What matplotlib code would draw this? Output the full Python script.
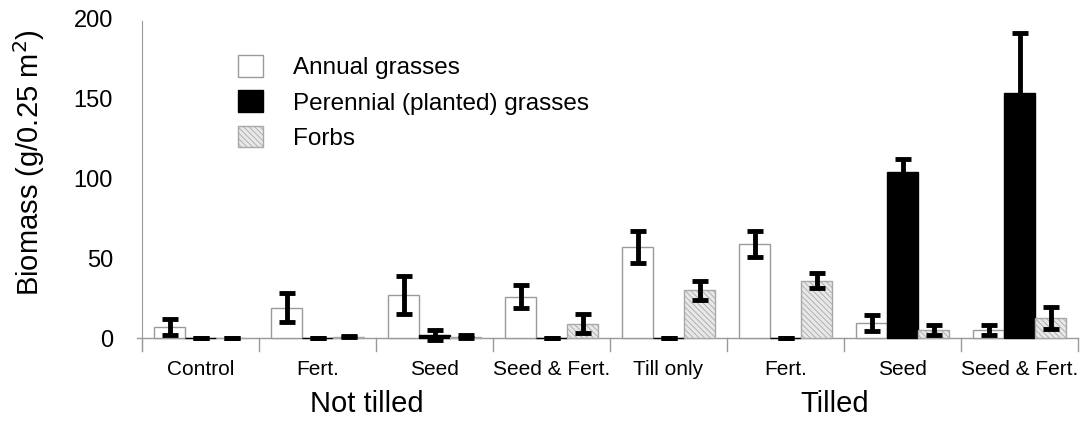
import numpy as np
import matplotlib
matplotlib.use("Agg")
import matplotlib.pyplot as plt
from matplotlib.patches import Patch

plt.rcParams["font.family"] = ["Liberation Sans", "DejaVu Sans"]
plt.rcParams["hatch.linewidth"] = 0.6

# ── data ────────────────────────────────────────────────────────────────────
treatments = ["Control", "Fert.", "Seed", "Seed & Fert.",
              "Till only", "Fert.", "Seed", "Seed & Fert."]
tillage = ["Not tilled", "Tilled"]

annual = [7, 19, 27, 26, 57, 59, 9.5, 5]
annual_err = [5, 9, 12, 7, 10, 8, 5, 3]

perennial = [0, 0, 2, 0, 0, 0, 104, 153]
perennial_err = [0, 0, 3, 0, 0, 0, 8, 38]

forbs = [0, 1, 1, 9, 30, 36, 5, 12.5]
forbs_err = [0, 0.5, 1, 6, 6, 4.5, 3, 7]

series = ["Annual grasses", "Perennial (planted) grasses", "Forbs"]

# ── figure ──────────────────────────────────────────────────────────────────
fig = plt.figure(figsize=(10.85, 4.22), dpi=100)
ax = fig.add_axes([0.1309, 0.168, 0.8627, 0.789])

x = np.arange(len(treatments))
w = 0.265
styles = [
    dict(facecolor="white", edgecolor="#9a9a9a", linewidth=1.0),
    dict(facecolor="black", edgecolor="black", linewidth=1.0),
    dict(facecolor="#e8e8e8", edgecolor="#a8a8a8", linewidth=1.0, hatch="\\\\\\\\\\\\"),
]
err_kw = dict(ecolor="black", elinewidth=3.5, capsize=6, capthick=3.5)

for k, (vals, errs) in enumerate([(annual, annual_err),
                                  (perennial, perennial_err),
                                  (forbs, forbs_err)]):
    ax.bar(x + (k - 1) * w, vals, w, yerr=errs, error_kw=err_kw,
           label=series[k], zorder=2, **styles[k])

ax.set_xlim(-0.5, len(treatments) - 0.5)
ax.set_ylim(-8, 200)

# baseline + group separators below it
ax.plot([-0.54, len(treatments) - 0.5], [0, 0], color="#999999", lw=1.0,
        clip_on=False, zorder=1)
for b in np.arange(len(treatments) + 1) - 0.5:
    ax.plot([b, b], [0, -8], color="#999999", lw=1.0, clip_on=False, zorder=1)

for s in ["top", "right", "bottom"]:
    ax.spines[s].set_visible(False)
ax.spines["left"].set_color("#999999")
ax.spines["left"].set_bounds(-8, 198)

ax.set_yticks([0, 50, 100, 150, 200])
ax.tick_params(axis="y", length=0, pad=21, labelsize=17)
ax.set_xticks([])
ax.set_ylabel("Biomass (g/0.25 m$^2$)", fontsize=21)
ax.yaxis.set_label_coords(-0.101, 0.566)

for i, t in enumerate(treatments):
    ax.text(i, -19.5, t, ha="center", va="center", fontsize=15)
ax.text(1.42, -41, tillage[0], ha="center", va="center", fontsize=21)
ax.text(5.42, -41, tillage[1], ha="center", va="center", fontsize=21)

handles = [Patch(label=series[k], **styles[k]) for k in range(3)]
ax.legend(handles=handles, loc="upper left", bbox_to_anchor=(0.09, 0.925),
          frameon=False, fontsize=17.5, borderpad=0, handlelength=1.0,
          handleheight=1.0, handletextpad=1.25, labelspacing=0.45)

fig.savefig("out.png", dpi=100)
